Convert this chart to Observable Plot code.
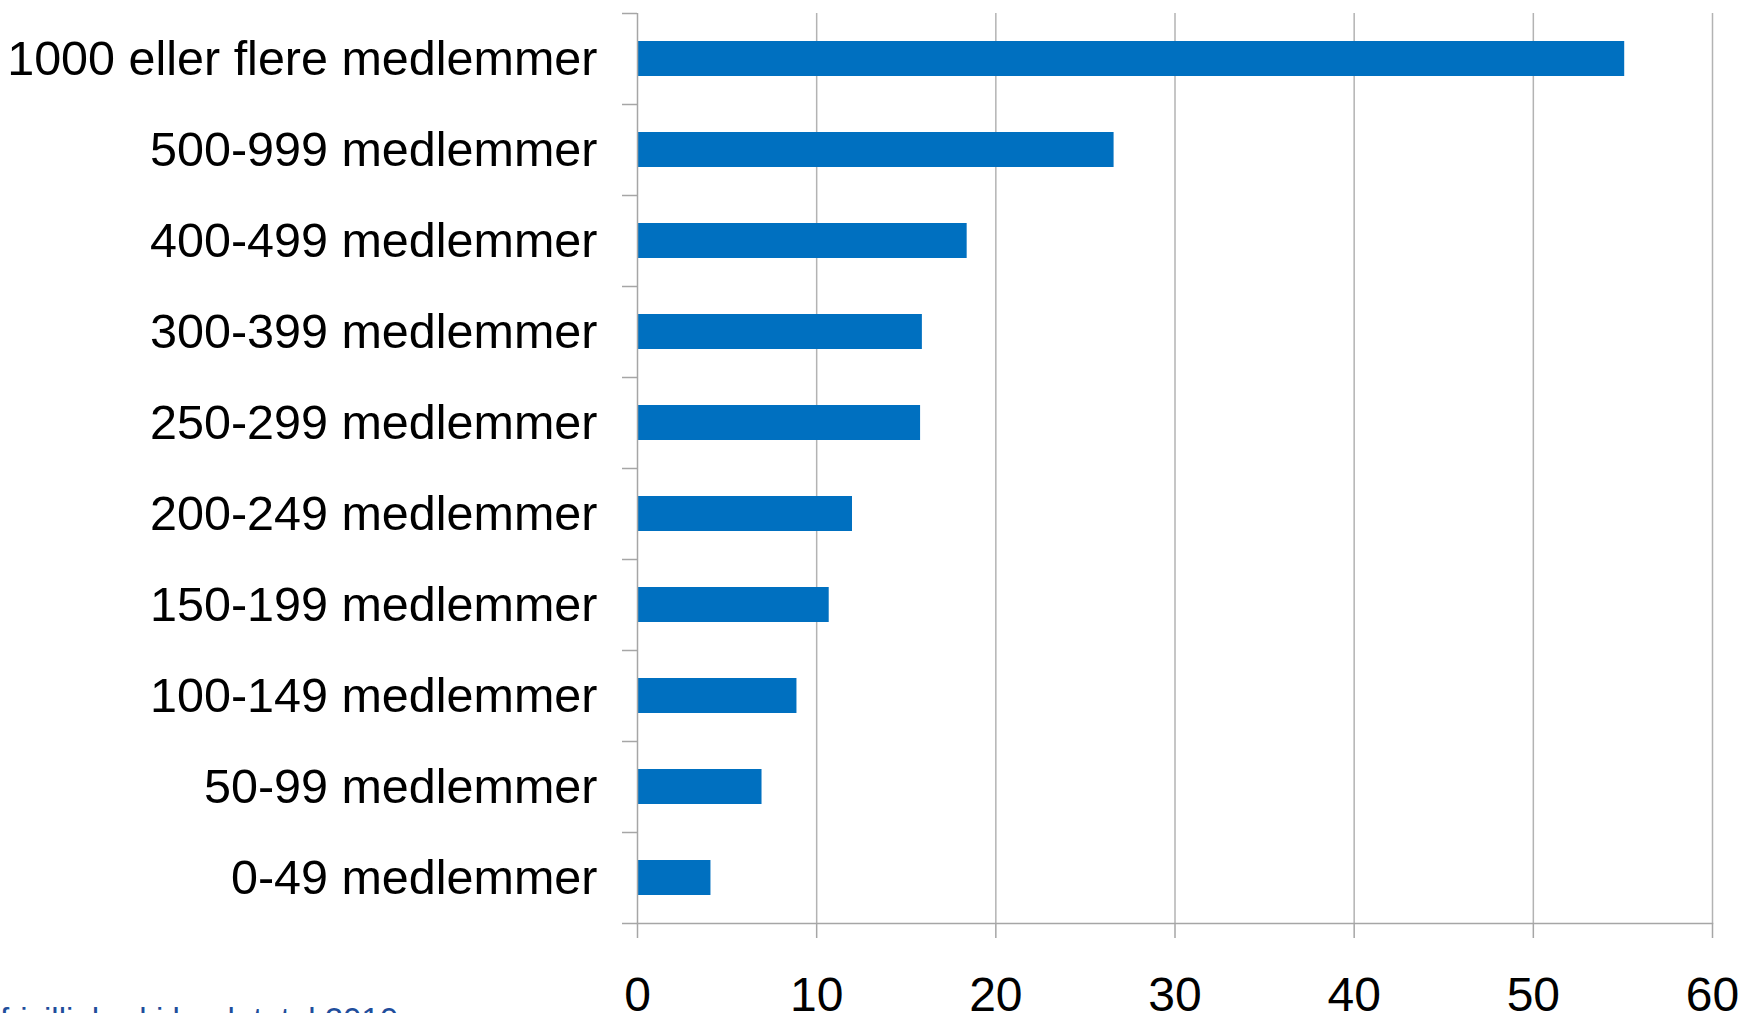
<!DOCTYPE html>
<html>
<head>
<meta charset="utf-8">
<script src="https://cdn.jsdelivr.net/npm/d3@7"></script>
<script src="https://cdn.jsdelivr.net/npm/@observablehq/plot@0.6"></script>
<style>
  html, body { margin: 0; padding: 0; background: #fff; overflow: hidden; }
  #wrap { position: relative; width: 1743px; height: 1013px; overflow: hidden; }
  #caption { position: absolute; left: 0; top: 1001px; font-family: "Liberation Sans", Arial, sans-serif;
             font-size: 33px; color: #1f4e9c; white-space: nowrap; }
</style>
</head>
<body>
<div id="wrap"><div id="chart"></div><div id="caption">frivillighed i landet, tal 2010</div></div>
<script>
const categories = [
  "1000 eller flere medlemmer",
  "500-999 medlemmer",
  "400-499 medlemmer",
  "300-399 medlemmer",
  "250-299 medlemmer",
  "200-249 medlemmer",
  "150-199 medlemmer",
  "100-149 medlemmer",
  "50-99 medlemmer",
  "0-49 medlemmer"
];
const values = [55.1, 26.6, 18.4, 15.9, 15.8, 12.0, 10.7, 8.9, 6.95, 4.1];
const xTicks = [0, 10, 20, 30, 40, 50, 60];

const data = categories.map((c, i) => ({category: c, value: values[i]}));

const W = 1743, H = 1013, MT = 13, MB = 90;
const bw = (H - MT - MB) / categories.length;
const axisGray = "#a6a6a6";

const chart = Plot.plot({
  width: W,
  height: H,
  marginTop: MT,
  marginBottom: MB,
  marginLeft: 637,
  marginRight: 31,
  style: {fontFamily: "'Liberation Sans', Arial, sans-serif", fontSize: "48px", color: "#000", background: "#fff"},
  x: {domain: [0, 60], label: null},
  y: {domain: categories, padding: 0, label: null},
  marks: [
    Plot.gridX(xTicks.slice(1), {stroke: "#b3b3b3", strokeOpacity: 1, strokeWidth: 1.5}),
    Plot.barX(data, {x: "value", y: "category", fill: "#0070c0", insetTop: 28, insetBottom: 28}),
    Plot.ruleX([0], {stroke: axisGray, strokeWidth: 1.5}),
    Plot.frame({anchor: "bottom", stroke: axisGray, strokeWidth: 1.5}),
    Plot.axisX(xTicks, {tickSize: 15, tickPadding: 38, stroke: axisGray, strokeWidth: 1.5, fill: "#000", fontSize: 48, label: null}),
    Plot.axisY({tickSize: 0, tickPadding: 40, fill: "#000", fontSize: 48.5, label: null}),
    Plot.axisY({tickSize: 15, tickFormat: () => "", dy: -bw / 2, stroke: axisGray, strokeWidth: 1.5, label: null}),
    Plot.axisY([categories[categories.length - 1]], {tickSize: 15, tickFormat: () => "", dy: bw / 2, stroke: axisGray, strokeWidth: 1.5, label: null})
  ]
});
document.getElementById("chart").append(chart);
</script>
</body>
</html>
